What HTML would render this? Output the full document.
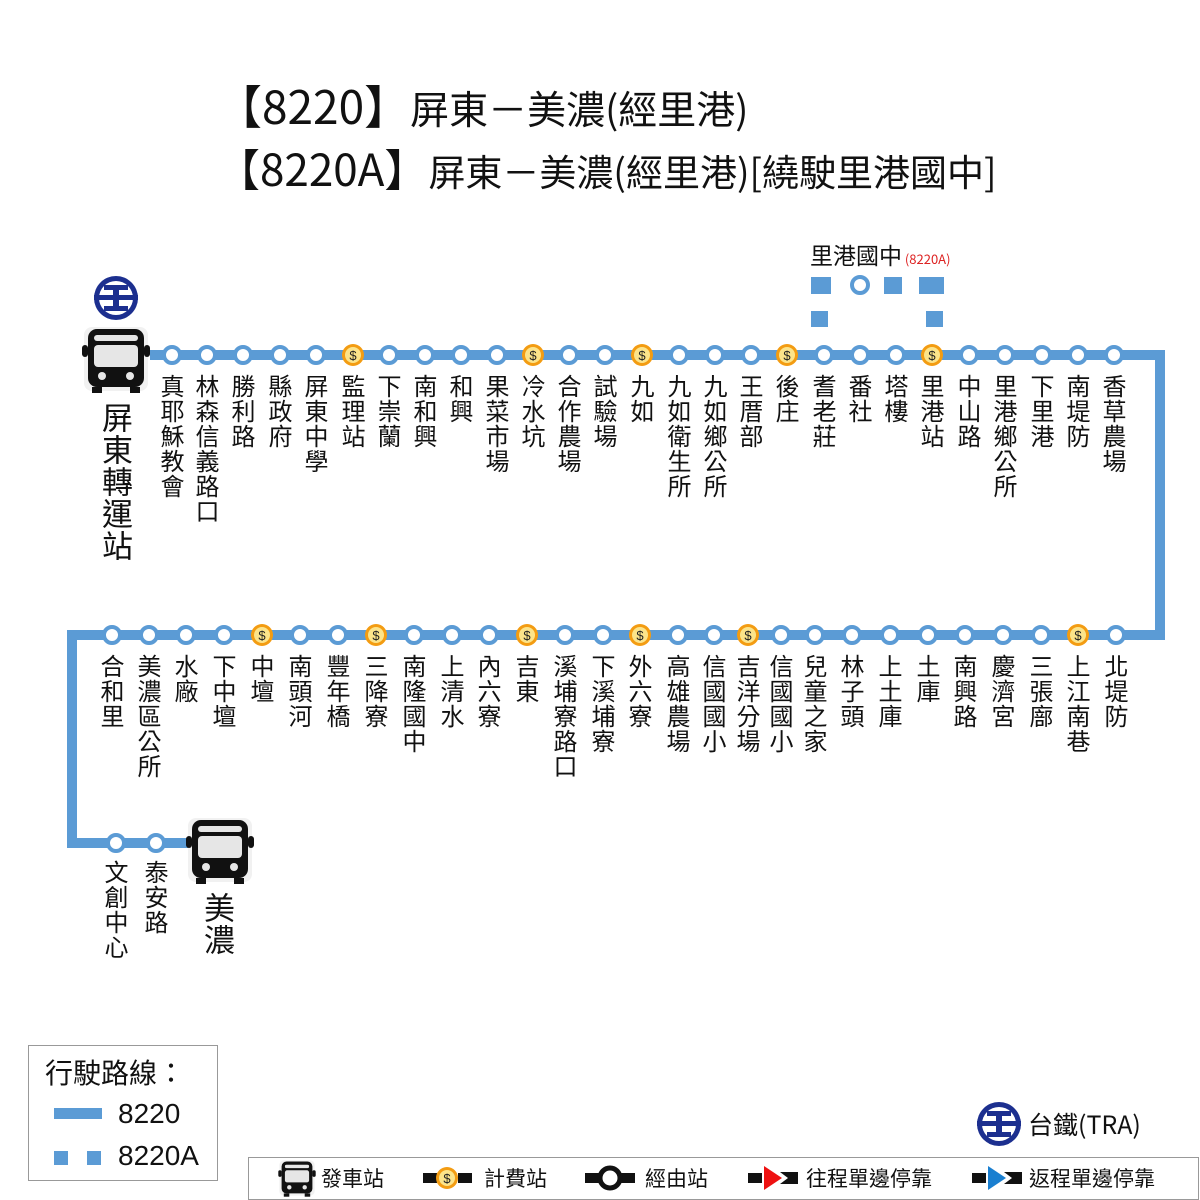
<!DOCTYPE html>
<html><head><meta charset="utf-8"><style>
body{margin:0;width:1200px;height:1200px;background:#fff;position:relative;overflow:hidden;font-family:"Liberation Sans","Noto Sans CJK TC",sans-serif;color:#111}
.v{position:absolute;writing-mode:vertical-rl;font-size:24px;line-height:26px;width:26px;letter-spacing:1px;font-family:"Noto Sans CJK TC",sans-serif}
.t{position:absolute;white-space:nowrap;font-family:"Liberation Sans","Noto Sans CJK TC",sans-serif}
.c{position:absolute;white-space:nowrap;font-family:"Noto Sans CJK TC",sans-serif}
svg{position:absolute;left:0;top:0}
</style></head><body>
<svg width="1200" height="1200" viewBox="0 0 1200 1200">
<defs>
<g id="bus"><rect x="-32" y="-32" width="64" height="64" rx="8" fill="#f1f1f1"/><rect x="-28" y="-30" width="56" height="58" rx="9" fill="#111"/><rect x="-34" y="-14" width="6" height="12" rx="3" fill="#111"/><rect x="28" y="-14" width="6" height="12" rx="3" fill="#111"/><rect x="-22" y="-24" width="44" height="6" rx="3" fill="#e6e6e6"/><rect x="-22" y="-14" width="44" height="22" rx="4" fill="#e6e6e6"/><circle cx="-14" cy="17" r="4" fill="#e6e6e6"/><circle cx="14" cy="17" r="4" fill="#e6e6e6"/><rect x="-24" y="28" width="10" height="6" fill="#111"/><rect x="14" y="28" width="10" height="6" fill="#111"/></g>
<g id="st"><circle r="8" fill="#fff" stroke="#5b9bd5" stroke-width="4"/></g>
<g id="fee"><circle r="11" fill="#f39c12"/><circle r="8" fill="#fce48a"/><text y="5" text-anchor="middle" font-size="13" font-family="Liberation Sans" fill="#222">$</text></g>
<g id="tra"><circle r="22" fill="#1c2f8f"/><circle r="17" fill="#fff"/><rect x="-22" y="-3" width="44" height="5" fill="#1c2f8f"/><rect x="-12" y="-13" width="24" height="5" fill="#1c2f8f"/><rect x="-3" y="-13" width="6" height="22" fill="#1c2f8f"/><rect x="-12" y="8" width="24" height="5" fill="#1c2f8f"/></g>
</defs>
<polyline points="150,355 1160,355 1160,635 72,635 72,843 200,843" fill="none" stroke="#5b9bd5" stroke-width="10"/>
<rect x="811" y="277" width="20" height="17" fill="#5b9bd5"/>
<rect x="884" y="277" width="18" height="17" fill="#5b9bd5"/>
<rect x="919" y="277" width="25" height="17" fill="#5b9bd5"/>
<rect x="811" y="311" width="17" height="16" fill="#5b9bd5"/>
<rect x="926" y="311" width="17" height="16" fill="#5b9bd5"/>
<use href="#st" x="860" y="285"/>
<use href="#st" x="172" y="355"/><use href="#st" x="207" y="355"/><use href="#st" x="243" y="355"/><use href="#st" x="280" y="355"/><use href="#st" x="316" y="355"/><use href="#fee" x="353" y="355"/><use href="#st" x="389" y="355"/><use href="#st" x="425" y="355"/><use href="#st" x="461" y="355"/><use href="#st" x="497" y="355"/><use href="#fee" x="533" y="355"/><use href="#st" x="569" y="355"/><use href="#st" x="605" y="355"/><use href="#fee" x="642" y="355"/><use href="#st" x="679" y="355"/><use href="#st" x="715" y="355"/><use href="#st" x="751" y="355"/><use href="#fee" x="787" y="355"/><use href="#st" x="824" y="355"/><use href="#st" x="860" y="355"/><use href="#st" x="896" y="355"/><use href="#fee" x="932" y="355"/><use href="#st" x="969" y="355"/><use href="#st" x="1005" y="355"/><use href="#st" x="1042" y="355"/><use href="#st" x="1078" y="355"/><use href="#st" x="1114" y="355"/>
<use href="#st" x="112" y="635"/><use href="#st" x="149" y="635"/><use href="#st" x="186" y="635"/><use href="#st" x="224" y="635"/><use href="#fee" x="262" y="635"/><use href="#st" x="300" y="635"/><use href="#st" x="338" y="635"/><use href="#fee" x="376" y="635"/><use href="#st" x="414" y="635"/><use href="#st" x="452" y="635"/><use href="#st" x="489" y="635"/><use href="#fee" x="527" y="635"/><use href="#st" x="565" y="635"/><use href="#st" x="603" y="635"/><use href="#fee" x="640" y="635"/><use href="#st" x="678" y="635"/><use href="#st" x="714" y="635"/><use href="#fee" x="748" y="635"/><use href="#st" x="781" y="635"/><use href="#st" x="815" y="635"/><use href="#st" x="852" y="635"/><use href="#st" x="890" y="635"/><use href="#st" x="928" y="635"/><use href="#st" x="965" y="635"/><use href="#st" x="1003" y="635"/><use href="#st" x="1041" y="635"/><use href="#fee" x="1078" y="635"/><use href="#st" x="1116" y="635"/>
<use href="#st" x="116" y="843"/><use href="#st" x="156" y="843"/>
<use href="#bus" x="116" y="359"/>
<use href="#bus" x="220" y="850"/>
<use href="#tra" x="116" y="298"/>
<use href="#tra" x="999" y="1124"/>
<rect x="28.5" y="1045.5" width="189" height="135" fill="#fff" stroke="#999"/>
<rect x="54" y="1108" width="48" height="11" fill="#5b9bd5"/>
<rect x="54" y="1151" width="14" height="14" fill="#5b9bd5"/><rect x="87" y="1151" width="14" height="14" fill="#5b9bd5"/>
<rect x="248.5" y="1157.5" width="950" height="42" fill="#fff" stroke="#999"/>
<g transform="translate(297,1178) scale(0.55)"><use href="#bus"/></g>
<rect x="423" y="1173" width="14" height="10" fill="#111"/><rect x="458" y="1173" width="14" height="10" fill="#111"/><use href="#fee" x="447" y="1178"/>
<rect x="585" y="1173" width="50" height="10" fill="#111"/><circle cx="610" cy="1178" r="10" fill="#fff" stroke="#111" stroke-width="5"/>
<rect x="748" y="1173" width="14" height="10" fill="#111"/><polygon points="764,1166 782,1178 764,1190" fill="#e11"/><polygon points="780,1172 798,1172 798,1184 780,1184 788,1178" fill="#111"/>
<rect x="972" y="1173" width="14" height="10" fill="#111"/><polygon points="988,1166 1006,1178 988,1190" fill="#1a7fd0"/><polygon points="1004,1172 1022,1172 1022,1184 1004,1184 1012,1178" fill="#111"/>
</svg>

<div class="c" style="left:216px;top:74px;font-size:46px;line-height:62px">【8220】<span style="font-size:39px">屏東－美濃(經里港)</span></div>
<div class="c" style="left:216px;top:136px;font-size:44px;line-height:62px">【8220A】<span style="font-size:37px">屏東－美濃(經里港)[繞駛里港國中]</span></div>
<div class="c" style="left:810px;top:238px;font-size:23px;line-height:32px">里港國中<span style="font-size:13px;color:#d22"> (8220A)</span></div>

<div class="v" style="left:100px;top:402px;font-size:31px;line-height:34px;width:34px">屏東轉運站</div>
<div class="v" style="left:159px;top:374px">真耶穌教會</div>
<div class="v" style="left:194px;top:374px">林森信義路口</div>
<div class="v" style="left:230px;top:374px">勝利路</div>
<div class="v" style="left:267px;top:374px">縣政府</div>
<div class="v" style="left:303px;top:374px">屏東中學</div>
<div class="v" style="left:340px;top:374px">監理站</div>
<div class="v" style="left:376px;top:374px">下崇蘭</div>
<div class="v" style="left:412px;top:374px">南和興</div>
<div class="v" style="left:448px;top:374px">和興</div>
<div class="v" style="left:484px;top:374px">果菜市場</div>
<div class="v" style="left:520px;top:374px">冷水坑</div>
<div class="v" style="left:556px;top:374px">合作農場</div>
<div class="v" style="left:592px;top:374px">試驗場</div>
<div class="v" style="left:629px;top:374px">九如</div>
<div class="v" style="left:666px;top:374px">九如衛生所</div>
<div class="v" style="left:702px;top:374px">九如鄉公所</div>
<div class="v" style="left:738px;top:374px">王厝部</div>
<div class="v" style="left:774px;top:374px">後庄</div>
<div class="v" style="left:811px;top:374px">耆老莊</div>
<div class="v" style="left:847px;top:374px">番社</div>
<div class="v" style="left:883px;top:374px">塔樓</div>
<div class="v" style="left:919px;top:374px">里港站</div>
<div class="v" style="left:956px;top:374px">中山路</div>
<div class="v" style="left:992px;top:374px">里港鄉公所</div>
<div class="v" style="left:1029px;top:374px">下里港</div>
<div class="v" style="left:1065px;top:374px">南堤防</div>
<div class="v" style="left:1101px;top:374px">香草農場</div>

<div class="v" style="left:99px;top:654px">合和里</div>
<div class="v" style="left:136px;top:654px">美濃區公所</div>
<div class="v" style="left:173px;top:654px">水廠</div>
<div class="v" style="left:211px;top:654px">下中壇</div>
<div class="v" style="left:249px;top:654px">中壇</div>
<div class="v" style="left:287px;top:654px">南頭河</div>
<div class="v" style="left:325px;top:654px">豐年橋</div>
<div class="v" style="left:363px;top:654px">三降寮</div>
<div class="v" style="left:401px;top:654px">南隆國中</div>
<div class="v" style="left:439px;top:654px">上清水</div>
<div class="v" style="left:476px;top:654px">內六寮</div>
<div class="v" style="left:514px;top:654px">吉東</div>
<div class="v" style="left:552px;top:654px">溪埔寮路口</div>
<div class="v" style="left:590px;top:654px">下溪埔寮</div>
<div class="v" style="left:627px;top:654px">外六寮</div>
<div class="v" style="left:665px;top:654px">高雄農場</div>
<div class="v" style="left:701px;top:654px">信國國小</div>
<div class="v" style="left:735px;top:654px">吉洋分場</div>
<div class="v" style="left:768px;top:654px">信國國小</div>
<div class="v" style="left:802px;top:654px">兒童之家</div>
<div class="v" style="left:839px;top:654px">林子頭</div>
<div class="v" style="left:877px;top:654px">上土庫</div>
<div class="v" style="left:915px;top:654px">土庫</div>
<div class="v" style="left:952px;top:654px">南興路</div>
<div class="v" style="left:990px;top:654px">慶濟宮</div>
<div class="v" style="left:1028px;top:654px">三張廍</div>
<div class="v" style="left:1065px;top:654px">上江南巷</div>
<div class="v" style="left:1103px;top:654px">北堤防</div>

<div class="v" style="left:103px;top:860px">文創中心</div>
<div class="v" style="left:143px;top:860px">泰安路</div>
<div class="v" style="left:202px;top:892px;font-size:31px;line-height:34px;width:34px">美濃</div>

<div class="c" style="left:45px;top:1052px;font-size:28px;line-height:40px">行駛路線：</div>
<div class="t" style="left:118px;top:1098px;font-size:28px">8220</div>
<div class="t" style="left:118px;top:1140px;font-size:28px">8220A</div>
<div class="c" style="left:1028px;top:1106px;font-size:25px;line-height:36px">台鐵(TRA)</div>
<div class="c" style="left:321px;top:1163px;font-size:21px;line-height:30px">發車站</div>
<div class="c" style="left:484px;top:1163px;font-size:21px;line-height:30px">計費站</div>
<div class="c" style="left:645px;top:1163px;font-size:21px;line-height:30px">經由站</div>
<div class="c" style="left:806px;top:1163px;font-size:21px;line-height:30px">往程單邊停靠</div>
<div class="c" style="left:1029px;top:1163px;font-size:21px;line-height:30px">返程單邊停靠</div>
</body></html>
